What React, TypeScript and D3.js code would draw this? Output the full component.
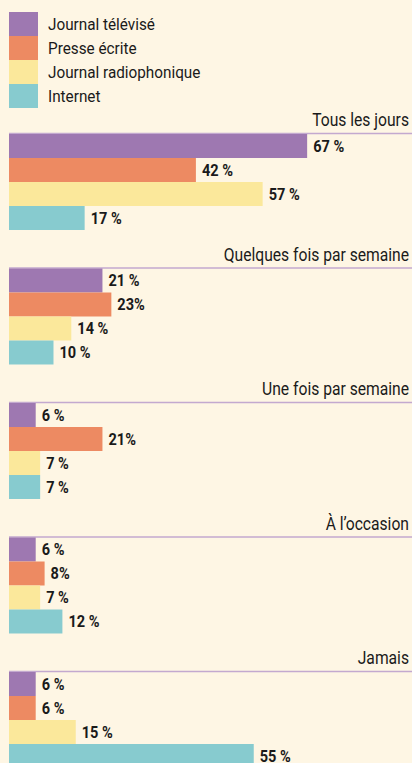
import React from "react";
import * as d3 from "d3";

const categories = ["Tous les jours", "Quelques fois par semaine", "Une fois par semaine", "À l’occasion", "Jamais"];
const seriesNames = ["Journal télévisé", "Presse écrite", "Journal radiophonique", "Internet"];
const tvValues = [67, 21, 6, 6, 6];
const presseValues = [42, 23, 21, 8, 6];
const radioValues = [57, 14, 7, 7, 15];
const internetValues = [17, 10, 7, 12, 55];
const tvLabels = ["67 %", "21 %", "6 %", "6 %", "6 %"];
const presseLabels = ["42 %", "23%", "21%", "8%", "6 %"];
const radioLabels = ["57 %", "14 %", "7 %", "7 %", "15 %"];
const internetLabels = ["17 %", "10 %", "7 %", "12 %", "55 %"];
const colors = ["#9e78b1", "#ed8a62", "#fbe89b", "#87cbcf"];

const W = 412;
const H = 763;
const FONT = "Roboto, 'Noto Sans', Arial, sans-serif";

function SText(props: {
  x: number; y: number; sx: number; size: number; anchor?: string; weight?: string; children: React.ReactNode;
}) {
  return (
    <text
      transform={`translate(${props.x},${props.y}) scale(${props.sx},1)`}
      fontSize={props.size}
      textAnchor={props.anchor || "start"}
      fontWeight={props.weight || "normal"}
      fill="#1a1a1a"
    >
      {props.children}
    </text>
  );
}

export default function App() {
  const values = [tvValues, presseValues, radioValues, internetValues];
  const labels = [tvLabels, presseLabels, radioLabels, internetLabels];
  const x = d3.scaleLinear().domain([0, 100]).range([9, 454]);
  const section = d3.scaleBand<string>().domain(categories).range([133.5, 133.5 + 5 * 134.5]);
  const inner = d3.scaleBand<string>().domain(seriesNames).range([0, 96]);
  const legendY = d3.scaleBand<string>().domain(seriesNames).range([12, 108]);

  return (
    <svg width={W} height={H} style={{ position: "absolute", left: 0, top: 0, display: "block" }} fontFamily={FONT}>
      <rect x={0} y={0} width={W} height={H} fill="#fef6e4" />
      {seriesNames.map((s, i) => (
        <g key={s}>
          <rect x={9} y={legendY(s)!} width={29} height={legendY.bandwidth()} fill={colors[i]} />
          <SText x={48} y={legendY(s)! + legendY.bandwidth() / 2 + 5.5} sx={0.9} size={17}>
            {s}
          </SText>
        </g>
      ))}
      {categories.map((c, ci) => {
        const y0 = section(c)!;
        return (
          <g key={c}>
            <SText x={409} y={y0 - 7.5} sx={0.87} size={18} anchor="end">
              {c}
            </SText>
            <line x1={9} x2={W} y1={y0} y2={y0} stroke="#c3a9cf" strokeWidth={1.5} />
            {seriesNames.map((s, si) => {
              const v = values[si][ci];
              const by = y0 + 0.5 + inner(s)!;
              return (
                <g key={s}>
                  <rect x={x(0)} y={by} width={x(v) - x(0)} height={inner.bandwidth()} fill={colors[si]} />
                  <SText x={x(v) + 6} y={by + inner.bandwidth() / 2 + 5.5} sx={0.91} size={16} weight="bold">
                    {labels[si][ci]}
                  </SText>
                </g>
              );
            })}
          </g>
        );
      })}
    </svg>
  );
}
